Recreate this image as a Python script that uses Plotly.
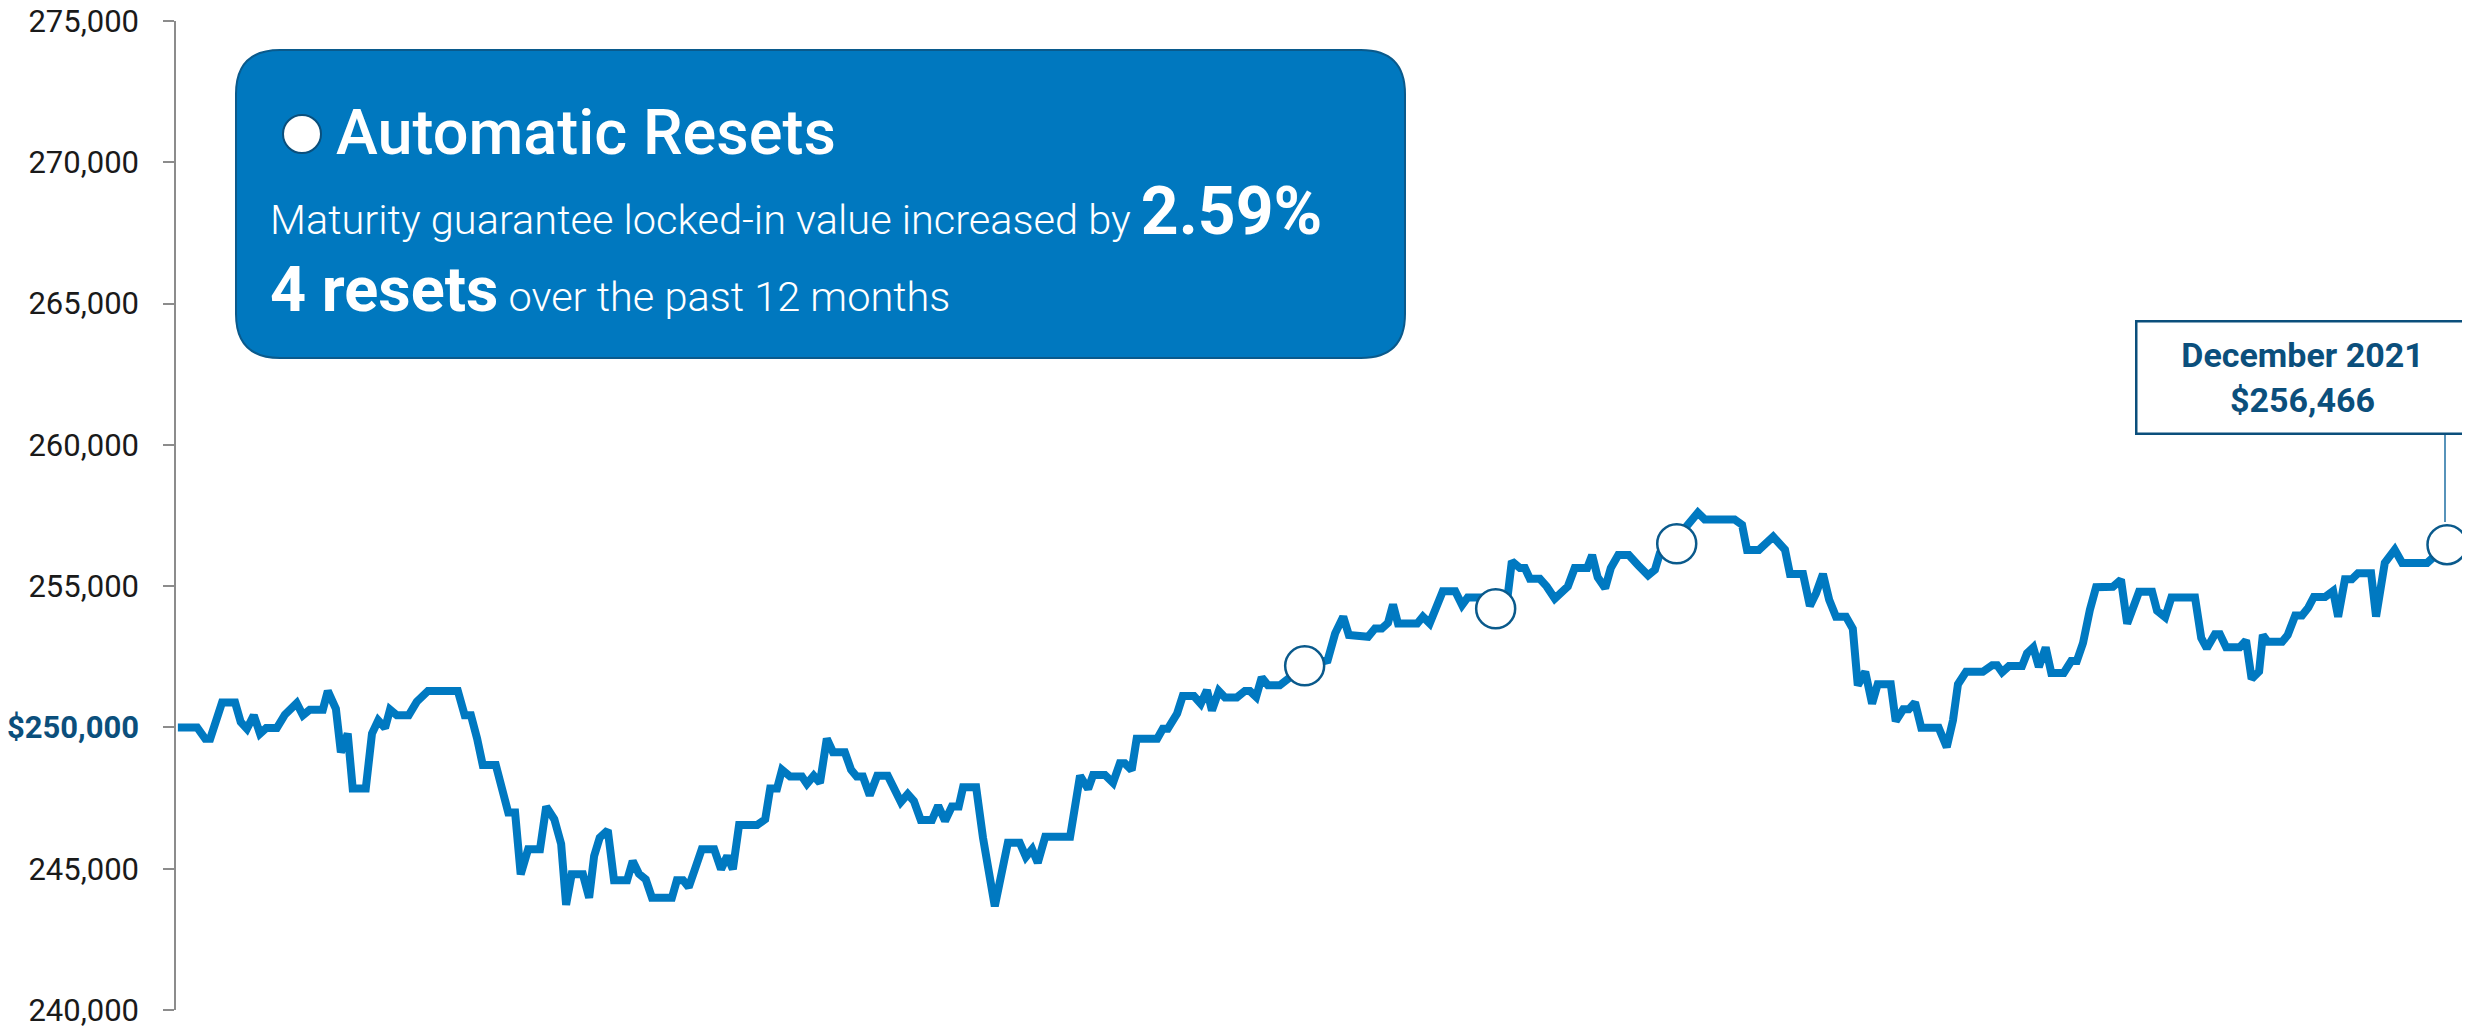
import plotly.graph_objects as go

# ---------------- data ----------------
days = [0.3, 3.4, 4.7, 5.5, 7.4, 9.5, 10.4, 11.4, 12.5, 13.5,
        14.5, 16.2, 17.5, 19.4, 20.4, 21.5, 23.6, 24.4, 25.7, 26.5,
        27.6, 28.4, 30.5, 31.5, 32.5, 33.6, 34.4, 35.5, 37.4, 38.7,
        40.5, 45.3, 46.4, 47.4, 48.4, 49.3, 51.4, 52.6, 53.4, 54.5,
        55.4, 56.6, 58.5, 59.5, 60.8, 61.9, 62.7, 63.6, 65.4, 66.4,
        67.2, 68.1, 69.4, 70.4, 72.5, 73.4, 74.4, 75.5, 76.5, 79.7,
        80.5, 81.5, 82.4, 83.4, 84.5, 86.5, 87.6, 88.6, 89.5, 90.5,
        93.4, 94.7, 95.5, 96.6, 97.4, 98.7, 100.6, 101.4, 102.5, 103.5,
        104.6, 105.6, 107.5, 108.5, 109.4, 110.4, 111.5, 112.7, 114.4, 116.5,
        117.6, 118.6, 119.7, 121.5, 122.5, 123.6, 124.7, 125.8, 126.5, 128.6,
        129.7, 131.6, 132.8, 133.7, 135.6, 136.6, 137.6, 138.5, 139.7, 143.7,
        145.3, 146.6, 147.4, 149.3, 150.6, 151.7, 152.5, 153.6, 154.4, 157.7,
        158.6, 159.4, 160.9, 161.8, 163.6, 164.7, 165.7, 166.5, 167.6, 168.6,
        170.5, 171.8, 172.6, 173.6, 174.5, 175.5, 177.4, 178.7, 181.4, 185.1,
        186.3, 187.6, 188.5, 191.6, 192.7, 193.8, 194.8, 195.6, 196.4, 199.5,
        200.4, 201.5, 202.7, 203.6, 205.6, 206.7, 207.6, 209.1, 214.0, 214.7,
        216.0, 216.8, 217.6, 219.2, 220.3, 221.6, 223.7, 224.8, 226.8, 227.6,
        228.5, 229.7, 230.6, 231.8, 233.5, 235.0, 236.6, 237.7, 238.5, 241.2,
        243.3, 244.6, 245.7, 250.5, 251.7, 252.5, 254.4, 255.4, 256.7, 258.6,
        259.4, 261.5, 262.6, 263.6, 264.7, 265.7, 266.8, 268.4, 269.5, 270.3,
        271.5, 272.6, 273.5, 275.6, 276.4, 277.6, 278.5, 279.5, 280.5, 283.3,
        284.6, 285.6, 286.4, 287.7, 290.4, 291.9, 292.7, 293.5, 294.6, 296.7,
        297.5, 298.5, 299.4, 300.5, 301.4, 303.4, 304.6, 305.5, 306.5, 307.6,
        308.6, 311.3, 312.6, 313.6, 314.5, 315.5, 317.6, 318.4, 319.7, 320.7,
        324.5, 325.5, 326.4, 327.7, 328.5, 329.5, 331.7, 332.7, 333.6, 334.8,
        335.4, 336.2, 338.5, 339.4, 340.6, 341.7, 342.7, 343.6, 345.4, 346.7,
        347.5, 348.6, 349.7, 350.7, 352.8, 353.6, 355.0, 356.6, 357.8, 361.8,
        365.0]

values = [250000, 250000, 249600, 249600, 250880, 250880, 250190, 249950, 250430, 249780,
          249980, 249980, 250450, 250860, 250430, 250630, 250630, 251290, 250660, 249120,
          249780, 247840, 247840, 249780, 250250, 249980, 250630, 250430, 250430, 250910,
          251290, 251290, 250430, 250430, 249600, 248670, 248670, 247640, 246990, 246990,
          244800, 245690, 245690, 247200, 246750, 245880, 243720, 244800, 244800, 243970,
          245450, 246100, 246360, 244590, 244590, 245270, 244820, 244620, 243970, 243970,
          244590, 244590, 244350, 244980, 245690, 245690, 244980, 245450, 244980, 246550,
          246550, 246750, 247840, 247840, 248500, 248260, 248260, 248000, 248290, 248040,
          249600, 249120, 249120, 248500, 248260, 248260, 247600, 248290, 248290, 247360,
          247640, 247390, 246720, 246720, 247230, 246690, 247200, 247200, 247880, 247880,
          246100, 243670, 244920, 245920, 245920, 245420, 245690, 245210, 246130, 246130,
          248290, 247820, 248320, 248320, 248040, 248730, 248730, 248490, 249600, 249600,
          249950, 249950, 250490, 251110, 251110, 250840, 251320, 250600, 251290, 251060,
          251060, 251290, 251290, 251080, 251770, 251490, 251490, 251730, 252180, 252380,
          253330, 253920, 253270, 253210, 253500, 253500, 253700, 254350, 253680, 253680,
          253920, 253680, 254290, 254820, 254820, 254330, 254600, 254600, 254600, 255880,
          255640, 255640, 255260, 255260, 254990, 254560, 254990, 255640, 255640, 256100,
          255310, 254930, 255640, 256100, 256100, 255740, 255380, 255580, 256170, 256700,
          257300, 257600, 257360, 257360, 257170, 256280, 256280, 256510, 256750, 256290,
          255430, 255430, 254300, 254750, 255430, 254520, 253920, 253920, 253490, 251490,
          251970, 250840, 251530, 251530, 250220, 250640, 250640, 250880, 249990, 249990,
          249300, 250250, 251530, 251970, 251970, 252200, 252200, 251950, 252170, 252170,
          252620, 252830, 252140, 252830, 251930, 251930, 252350, 252350, 252990, 254160,
          254960, 254980, 255230, 253670, 254290, 254800, 254800, 254130, 253900, 254600,
          254600, 253170, 252800, 253300, 253300, 252840, 252840, 253080, 251720, 251980,
          253270, 253030, 253030, 253270, 253960, 253960, 254240, 254620, 254620, 254830,
          253920, 255240, 255240, 255460, 255460, 253920, 255820, 256290, 255820, 255820,
          256466]

reset_days = [181.4, 212.1, 241.2, 365.0]
reset_values = [252180, 254200, 256500, 256466]

tick_values = [240000, 245000, 250000, 255000, 260000, 265000, 270000, 275000]
tick_labels = ["240,000", "245,000",
               "<b><span style='color:#0b4f7c'>$250,000</span></b>",
               "255,000", "260,000", "265,000", "270,000", "275,000"]

callout_title = "Automatic Resets"
callout_line2 = "Maturity guarantee locked-in value increased by "
callout_pct = "2.59%"
callout_resets = "4 resets"
callout_line3 = " over the past 12 months"
end_label = ["December 2021", "$256,466"]

# ---------------- layout geometry (page pixels) ----------------
OFF = 8                      # default <body> margin of the written page
PAGE_W, PAGE_H = 2470, 1026
W, H = PAGE_W - OFF, PAGE_H - OFF
PLOT_L, PLOT_T, PLOT_R, PLOT_B = 176, 21, 2447, 1010   # plot area in page pixels
L, T = PLOT_L - OFF, PLOT_T - OFF
R = PAGE_W - PLOT_R
B = PAGE_H - PLOT_B
PW, PH = PLOT_R - PLOT_L, PLOT_B - PLOT_T

def px(x):
    return (x - PLOT_L) / PW

def py(y):
    return (PLOT_B - y) / PH

BLUE = "#0079C1"
NAVY = "#0b4f7c"
FONT = "Roboto"

fig = go.Figure()
fig.add_trace(go.Scatter(
    x=days, y=values, mode="lines",
    line=dict(color=BLUE, width=8),
    hoverinfo="skip", cliponaxis=False, showlegend=False))
fig.add_trace(go.Scatter(
    x=reset_days, y=reset_values, mode="markers",
    marker=dict(size=39, color="white", line=dict(color="#0a5a8c", width=2.5)),
    hoverinfo="skip", cliponaxis=False, showlegend=False))

# rounded callout box
def rounded_rect(x0, y0, x1, y1, r):
    def P(x, y):
        return f"{px(x):.6f},{py(y):.6f}"
    return (f"M {P(x0 + r, y0)} L {P(x1 - r, y0)} Q {P(x1, y0)} {P(x1, y0 + r)} "
            f"L {P(x1, y1 - r)} Q {P(x1, y1)} {P(x1 - r, y1)} "
            f"L {P(x0 + r, y1)} Q {P(x0, y1)} {P(x0, y1 - r)} "
            f"L {P(x0, y0 + r)} Q {P(x0, y0)} {P(x0 + r, y0)} Z")

shapes = [
    dict(type="path", xref="paper", yref="paper",
         path=rounded_rect(236, 50, 1405, 358, 44),
         fillcolor="#0078BF", line=dict(color="#0a5a8c", width=2), layer="above"),
    dict(type="circle", xref="paper", yref="paper",
         x0=px(283), x1=px(321), y0=py(153), y1=py(115),
         fillcolor="white", line=dict(color="#0a4f7c", width=2)),
    dict(type="line", xref="paper", yref="paper",
         x0=px(2445), x1=px(2445), y0=py(434), y1=py(522),
         line=dict(color="#1f6fa3", width=1.5)),
]

annotations = [
    dict(xref="paper", yref="paper", x=px(334), y=py(133),
         xanchor="left", yanchor="middle", showarrow=False,
         text=callout_title,
         font=dict(family=FONT, size=63, color="white", weight=500)),
    dict(xref="paper", yref="paper", x=px(268), y=py(211),
         xanchor="left", yanchor="middle", showarrow=False,
         text=(f"<span style='font-weight:300'>{callout_line2}</span>"
               f"<span style='font-size:66px;font-weight:bold'>{callout_pct}</span>"),
         font=dict(family=FONT, size=41.5, color="white")),
    dict(xref="paper", yref="paper", x=px(268), y=py(289),
         xanchor="left", yanchor="middle", showarrow=False,
         text=(f"<span style='font-size:63px;font-weight:bold'>{callout_resets}</span>"
               f"<span style='font-weight:300'>{callout_line3}</span>"),
         font=dict(family=FONT, size=41.5, color="white")),
    dict(xref="paper", yref="paper", x=px(2302), y=py(377),
         xanchor="center", yanchor="middle", showarrow=False,
         text="<b>" + end_label[0] + "</b><br><b>" + end_label[1] + "</b>",
         font=dict(family=FONT, size=34, color=NAVY),
         bgcolor="white", bordercolor=NAVY, borderwidth=2.5, borderpad=0,
         width=330, height=110, align="center"),
]

fig.update_layout(
    width=W, height=H,
    margin=dict(l=L, r=R, t=T, b=B, autoexpand=False),
    paper_bgcolor="white", plot_bgcolor="white",
    shapes=shapes, annotations=annotations,
    xaxis=dict(range=[0, 365], visible=False, showgrid=False, zeroline=False,
               automargin=False),
    yaxis=dict(range=[240000, 275000], tickvals=tick_values, ticktext=tick_labels,
               ticks="outside", ticklen=11, tickcolor="#8c8c8c", tickwidth=1.5,
               showline=True, linecolor="#8c8c8c", linewidth=1.5,
               showgrid=False, zeroline=False, ticklabelstandoff=18,
               automargin=False, ticklabeloverflow="allow",
               tickfont=dict(family=FONT, size=31, color="#1a1a1a")),
    showlegend=False,
)

fig.write_html("out.html", config={"displayModeBar": False})
